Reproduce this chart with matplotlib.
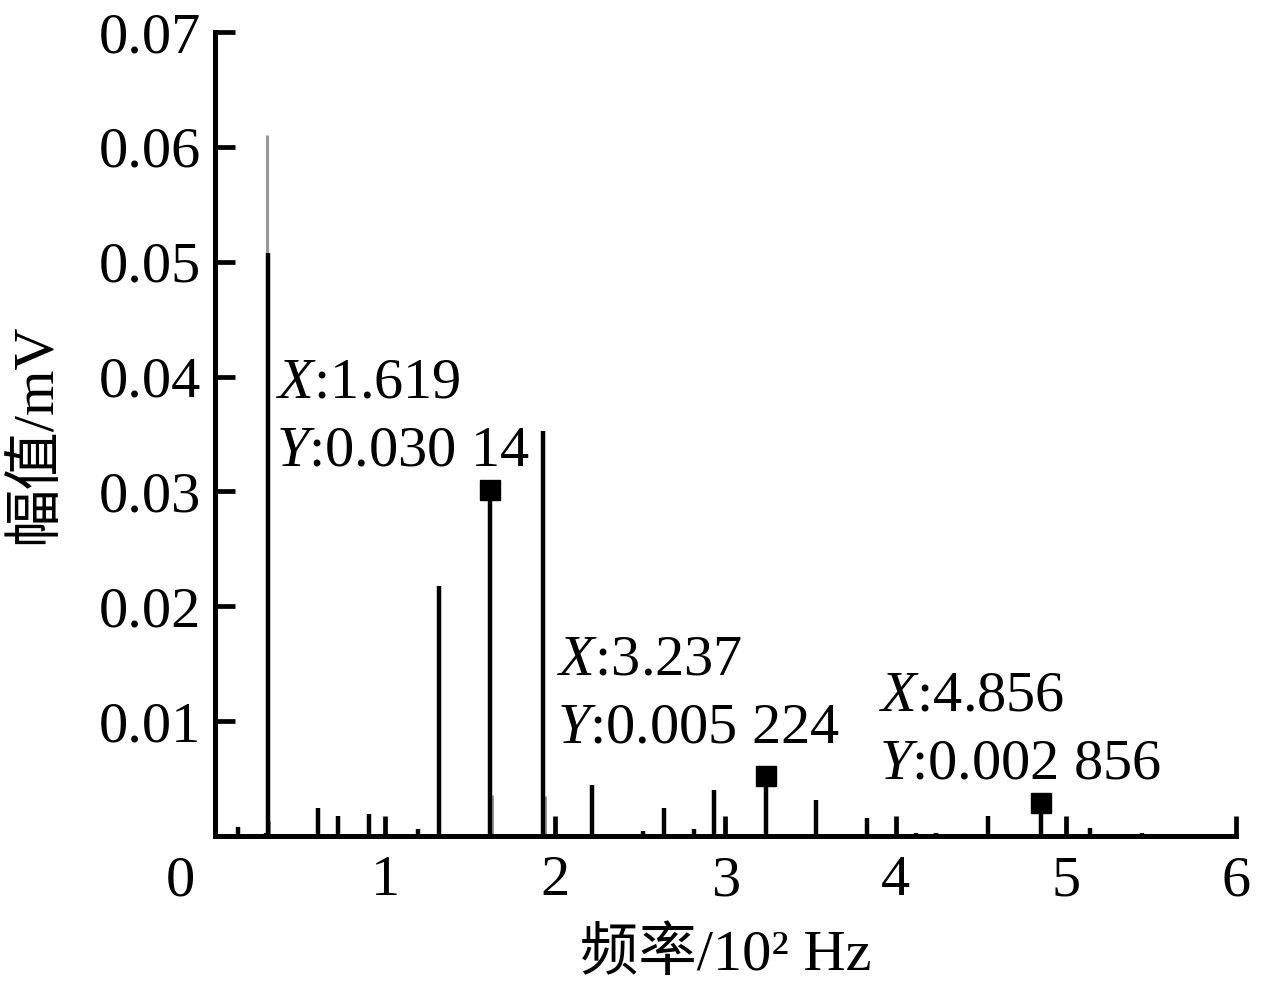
import matplotlib
matplotlib.use("Agg")
import matplotlib.pyplot as plt

# --- data (frequency in 10^2 Hz, amplitude in mV) ---
peak_freq = [0.137, 0.309, 0.297, 0.607, 0.725, 0.905, 1.195, 1.318, 1.619,
             1.929, 2.217, 2.517, 2.638, 2.816, 2.932, 3.237, 3.531, 3.829,
             4.120, 4.240, 4.544, 4.856, 5.141, 5.445]
peak_amp = [0.0008, 0.0508, 0.0003, 0.0024, 0.0017, 0.0019, 0.0006, 0.0218, 0.03014,
            0.0353, 0.0044, 0.0004, 0.0024, 0.0006, 0.0040, 0.005224, 0.0031, 0.0016,
            0.0003, 0.0003, 0.0017, 0.002856, 0.0007, 0.0003]

# leakage bins next to the strong lines (drawn lighter)
side_freq = [0.306, 0.316, 1.627, 1.938]
side_amp = [0.0610, 0.0013, 0.0036, 0.0035]

# data-tip markers
tip_x = [1.619, 3.237, 4.856]
tip_y = [0.03014, 0.005224, 0.002856]
tip_text = ["1.619", "0.030 14", "3.237", "0.005 224", "4.856", "0.002 856"]

x_ticks = [1, 2, 3, 4, 5, 6]
y_ticks = [0.01, 0.02, 0.03, 0.04, 0.05, 0.06, 0.07]

plt.rcParams["font.family"] = ["Liberation Serif", "Noto Sans CJK SC"]
plt.rcParams["mathtext.fontset"] = "custom"
plt.rcParams["mathtext.rm"] = "Liberation Serif"
plt.rcParams["mathtext.it"] = "Liberation Serif:italic"

FS = 42

fig = plt.figure(figsize=(12.7, 9.92), dpi=100)
ax = fig.add_axes([0.1693, 0.1573, 0.9732 - 0.1693, 0.9677 - 0.1573])

ax.vlines(side_freq, 0, side_amp, color="0.6", lw=2.2, zorder=2)
ax.vlines(peak_freq, 0, peak_amp, color="black", lw=3.2, zorder=3)
ax.plot(tip_x, tip_y, "s", color="black", ms=15, zorder=4)

# data-tip labels
label_pos = [(0.358, 0.0364), (2.009, 0.0123), (3.90, 0.0092)]
for i, (lx, ly) in enumerate(label_pos):
    s = r"$\mathit{X}$:" + tip_text[2 * i] + "\n" + r"$\mathit{Y}$:" + tip_text[2 * i + 1]
    ax.text(lx, ly, s, fontsize=FS, ha="left", va="center", linespacing=1.4)

ax.set_xlim(0, 6)
ax.set_ylim(0, 0.07)
ax.set_xticks(x_ticks)
ax.set_xticklabels([str(t) for t in x_ticks])
ax.set_yticks(y_ticks)
ax.set_yticklabels([f"{t:.2f}" for t in y_ticks])
ax.tick_params(direction="in", length=14.5, width=3.4, labelsize=FS)
ax.tick_params(axis="x", pad=14)
ax.tick_params(axis="y", pad=10)

for side in ["top", "right"]:
    ax.spines[side].set_visible(False)
for side in ["left", "bottom"]:
    ax.spines[side].set_linewidth(3.6)

# shared origin label
ax.annotate("0", xy=(0, 0), xytext=(-35, -46), textcoords="offset pixels",
            fontsize=FS, ha="center", va="center")

ax.set_xlabel("频率/10² Hz", fontsize=FS, labelpad=14)
ax.set_ylabel("幅值/mV", fontsize=FS, labelpad=26)

fig.savefig("out.png", dpi=100)
